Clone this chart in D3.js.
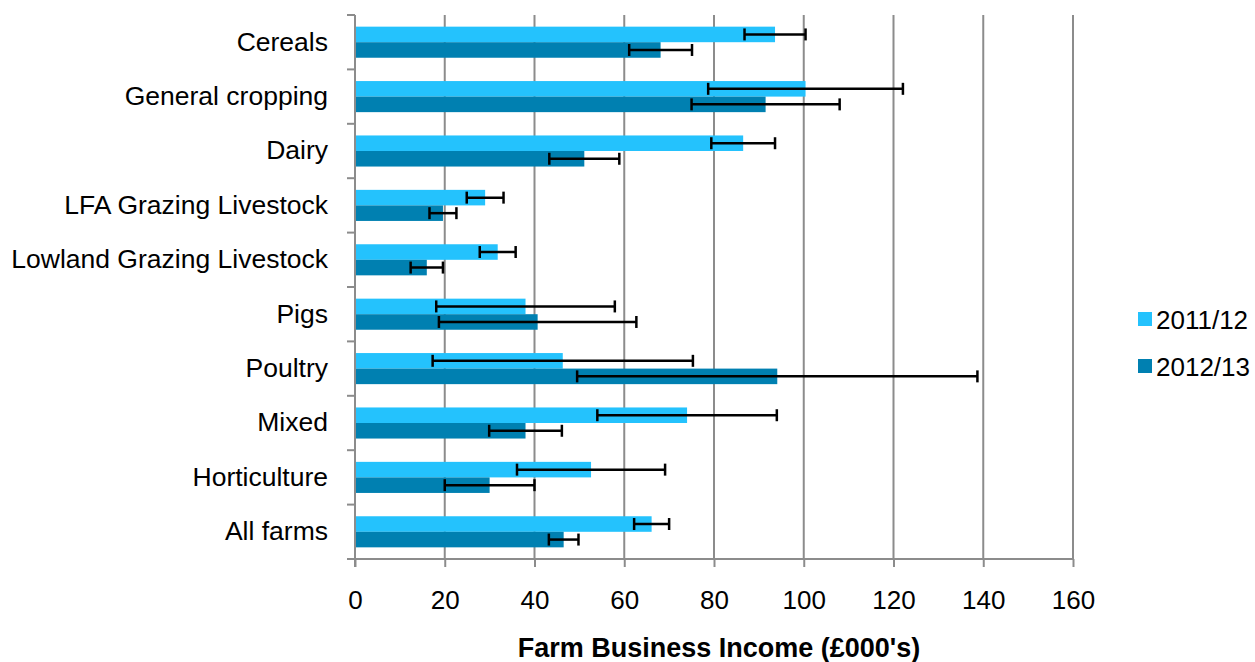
<!DOCTYPE html>
<html><head><meta charset="utf-8">
<script src="https://cdn.jsdelivr.net/npm/d3@7"></script>
<style>body{margin:0;background:#fff}svg{display:block;font-family:"Liberation Sans",Arial,sans-serif}</style>
</head><body><svg id="c" width="1255" height="662"></svg>
<script>
const categories = ["Cereals","General cropping","Dairy","LFA Grazing Livestock","Lowland Grazing Livestock","Pigs","Poultry","Mixed","Horticulture","All farms"];
const seriesNames = ["2011/12","2012/13"];
const values2011 = [93.6,100.4,86.5,29.0,31.8,38.0,46.3,74.0,52.6,66.1];
const errors2011 = [6.8,21.7,7.1,4.1,4.0,19.9,29.0,20.0,16.5,3.9];
const values2012 = [68.1,91.5,51.1,19.6,16.0,40.7,94.1,38.0,30.0,46.5];
const errors2012 = [7.0,16.5,7.8,3.0,3.6,22.0,44.6,8.1,10.0,3.3];
const xTicks = [0,20,40,60,80,100,120,140,160];
const colors = ["#24c2fd","#0080b1"];

(function(){
const svg = d3.select("#c");
const pL = 355, pR = 1073, pT = 15, pB = 559;
const x = d3.scaleLinear().domain([0,160]).range([pL,pR]);
const y = d3.scaleBand().domain(categories).range([pT,pB]).paddingInner(0).paddingOuter(0);
const inner = d3.scaleBand().domain(seriesNames).range([0,y.bandwidth()]).paddingOuter(0.75).paddingInner(0);

// gridlines
svg.append("g").selectAll("line").data(xTicks.slice(1)).join("line")
  .attr("x1",d=>x(d)).attr("x2",d=>x(d)).attr("y1",pT).attr("y2",pB)
  .attr("stroke","#8c8c8c").attr("stroke-width",2);

const data = categories.map((c,i)=>({c, s:[{n:seriesNames[0],v:values2011[i],e:errors2011[i]},{n:seriesNames[1],v:values2012[i],e:errors2012[i]}]}));

const g = svg.append("g").selectAll("g").data(data).join("g").attr("transform",d=>`translate(0,${y(d.c)})`);
g.selectAll("rect").data(d=>d.s).join("rect")
  .attr("x",x(0)).attr("y",d=>inner(d.n)).attr("width",d=>x(d.v)-x(0)).attr("height",inner.bandwidth())
  .attr("fill",(d,i)=>colors[i]);

// error bars
const eb = g.selectAll("g.eb").data(d=>d.s).join("g").attr("class","eb")
  .attr("transform",d=>`translate(0,${inner(d.n)+inner.bandwidth()/2})`);
eb.append("line").attr("x1",d=>x(d.v-d.e)).attr("x2",d=>x(d.v+d.e)).attr("y1",0).attr("y2",0).attr("stroke","#000").attr("stroke-width",2.5);
eb.append("line").attr("x1",d=>x(d.v-d.e)).attr("x2",d=>x(d.v-d.e)).attr("y1",-6).attr("y2",6).attr("stroke","#000").attr("stroke-width",2.5);
eb.append("line").attr("x1",d=>x(d.v+d.e)).attr("x2",d=>x(d.v+d.e)).attr("y1",-6).attr("y2",6).attr("stroke","#000").attr("stroke-width",2.5);

// x axis
const xAxis = svg.append("g").attr("transform",`translate(0,${pB})`)
  .call(d3.axisBottom(x).tickValues(xTicks).tickSize(8).tickPadding(24).tickFormat(d3.format("d")));
xAxis.select(".domain").attr("stroke","#8c8c8c").attr("stroke-width",2).attr("d",`M${pL-8},0H${pR}`);
xAxis.selectAll(".tick line").attr("stroke","#8c8c8c").attr("stroke-width",2);
xAxis.selectAll("text").attr("font-size",26).attr("fill","#000").attr("font-family","Liberation Sans, Arial, sans-serif");

// y axis
const yAxis = svg.append("g").attr("transform",`translate(${pL},0)`)
  .call(d3.axisLeft(y).tickSize(0).tickPadding(27));
yAxis.select(".domain").remove();
yAxis.selectAll("text").attr("font-size",26.5).attr("fill","#000").attr("font-family","Liberation Sans, Arial, sans-serif");
svg.append("line").attr("x1",pL).attr("x2",pL).attr("y1",pT).attr("y2",pB+8).attr("stroke","#8c8c8c").attr("stroke-width",2);
svg.append("g").selectAll("line").data(d3.range(categories.length+1)).join("line")
  .attr("x1",pL-8).attr("x2",pL).attr("y1",i=>pT+i*y.step()).attr("y2",i=>pT+i*y.step())
  .attr("stroke","#8c8c8c").attr("stroke-width",2);

// title
svg.append("text").attr("x",719).attr("y",657).attr("text-anchor","middle").attr("font-size",27).attr("font-weight","bold").text("Farm Business Income (£000's)");

// legend
const lg = svg.append("g").selectAll("g").data(seriesNames).join("g").attr("transform",(d,i)=>`translate(1138,${319+i*47})`);
lg.append("rect").attr("x",0).attr("y",-7).attr("width",14).attr("height",14).attr("fill",(d,i)=>colors[i]);
lg.append("text").attr("x",18).attr("y",9.5).attr("font-size",26).text(d=>d);
})();
</script></body></html>
